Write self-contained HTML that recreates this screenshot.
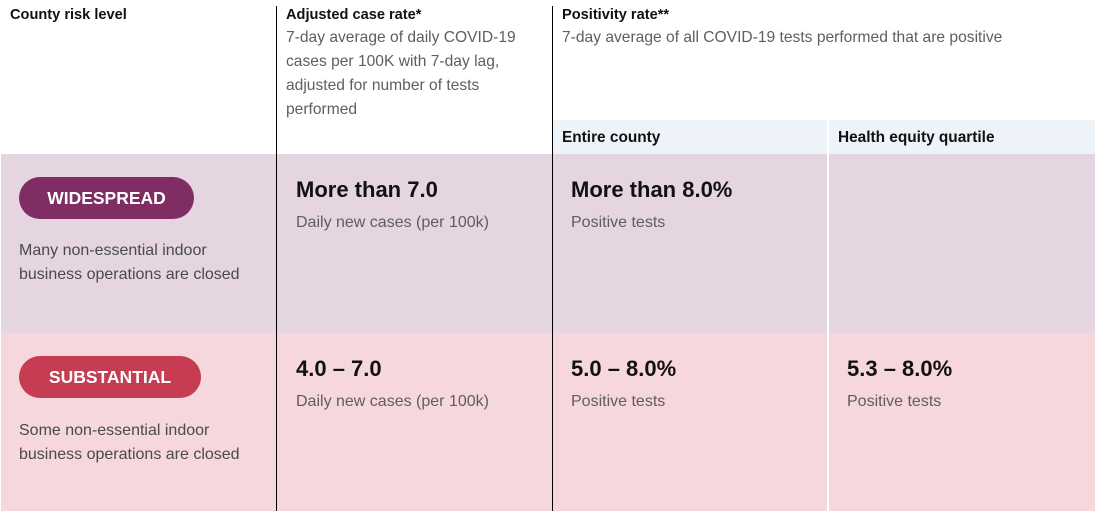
<!DOCTYPE html>
<html>
<head>
<meta charset="utf-8">
<style>
  html,body{margin:0;padding:0;}
  body{width:1095px;height:511px;position:relative;overflow:hidden;background:#fff;font-family:"Liberation Sans",Arial,sans-serif;}
  .a{position:absolute;white-space:nowrap;}
  .hb{font-weight:bold;font-size:14.6px;color:#111;line-height:20px;}
  .hs{font-weight:bold;font-size:15.4px;color:#111;line-height:20px;}
  .desc{font-size:15.6px;color:#5e5e5e;line-height:24px;}
  .val{font-weight:bold;font-size:22px;color:#111;line-height:26px;}
  .sub{font-size:16px;color:#5e5e5e;line-height:20px;}
  .rowt{font-size:16px;color:#4a4a4a;line-height:24px;}
  .badge{position:absolute;height:42px;border-radius:21px;color:#fff;font-weight:bold;font-size:17.5px;line-height:42px;text-align:center;}
  .vl{position:absolute;width:1px;background:#000;top:6px;height:505px;}
</style>
</head>
<body>
  <!-- backgrounds -->
  <div class="a" style="left:553px;top:120px;width:542px;height:34px;background:#eef3fa;"></div>
  <div class="a" style="left:1px;top:154px;width:1094px;height:179px;background:#e5d5e1;"></div>
  <div class="a" style="left:1px;top:333px;width:1094px;height:178px;background:#f5d7dc;"></div>
  <div class="a" style="left:827px;top:120px;width:2px;height:391px;background:#fff;"></div>
  <div class="vl" style="left:276px;"></div>
  <div class="vl" style="left:552px;"></div>

  <!-- header -->
  <div class="a hb" style="left:10px;top:5px;">County risk level</div>
  <div class="a hb" style="left:286px;top:5px;">Adjusted case rate*</div>
  <div class="a desc" style="left:286px;top:26px;">7-day average of daily COVID-19<br>cases per 100K with 7-day lag,<br>adjusted for number of tests<br>performed</div>
  <div class="a hb" style="left:562px;top:5px;">Positivity rate**</div>
  <div class="a desc" style="left:562px;top:26px;">7-day average of all COVID-19 tests performed that are positive</div>
  <div class="a hs" style="left:562px;top:128px;">Entire county</div>
  <div class="a hs" style="left:838px;top:128px;">Health equity quartile</div>

  <!-- row 1 -->
  <div class="badge" style="left:19px;top:177px;width:175px;background:#7f2d62;">WIDESPREAD</div>
  <div class="a rowt" style="left:19px;top:239px;">Many non-essential indoor<br>business operations are closed</div>
  <div class="a val" style="left:296px;top:177px;">More than 7.0</div>
  <div class="a sub" style="left:296px;top:213px;">Daily new cases (per 100k)</div>
  <div class="a val" style="left:571px;top:177px;">More than 8.0%</div>
  <div class="a sub" style="left:571px;top:213px;">Positive tests</div>

  <!-- row 2 -->
  <div class="badge" style="left:19px;top:356px;width:182px;background:#c63c52;">SUBSTANTIAL</div>
  <div class="a rowt" style="left:19px;top:419px;">Some non-essential indoor<br>business operations are closed</div>
  <div class="a val" style="left:296px;top:356px;">4.0 – 7.0</div>
  <div class="a sub" style="left:296px;top:392px;">Daily new cases (per 100k)</div>
  <div class="a val" style="left:571px;top:356px;">5.0 – 8.0%</div>
  <div class="a sub" style="left:571px;top:392px;">Positive tests</div>
  <div class="a val" style="left:847px;top:356px;">5.3 – 8.0%</div>
  <div class="a sub" style="left:847px;top:392px;">Positive tests</div>
</body>
</html>
